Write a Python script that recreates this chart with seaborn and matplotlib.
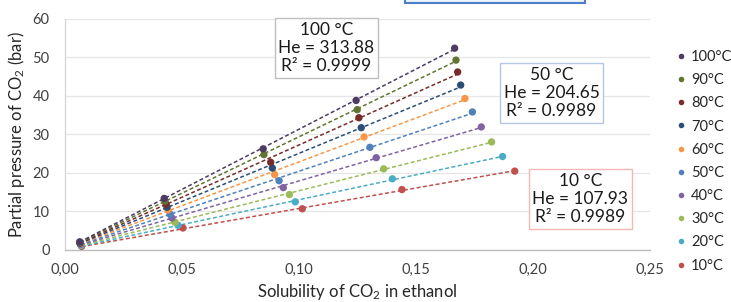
import numpy as np
import pandas as pd
import matplotlib
matplotlib.use("Agg")
import matplotlib.pyplot as plt
from matplotlib.lines import Line2D
from matplotlib.patches import Rectangle
import seaborn as sns

# ---- data ----
temps = ["10°C", "20°C", "30°C", "40°C", "50°C", "60°C", "70°C", "80°C", "90°C", "100°C"]
x_10 = [0.0071, 0.0504, 0.1014, 0.1440, 0.1922]
y_10 = [0.80, 5.6, 10.6, 15.6, 20.4]
x_20 = [0.0069, 0.0483, 0.0984, 0.1399, 0.1870]
y_20 = [1.00, 6.3, 12.4, 18.4, 24.2]
x_30 = [0.0068, 0.0470, 0.0959, 0.1362, 0.1823]
y_30 = [1.15, 7.1, 14.3, 21.0, 28.0]
x_40 = [0.0067, 0.0457, 0.0933, 0.1330, 0.1779]
y_40 = [1.30, 8.2, 16.1, 23.9, 31.9]
x_50 = [0.0066, 0.0449, 0.0915, 0.1303, 0.1741]
y_50 = [1.40, 9.2, 17.9, 26.6, 35.8]
x_60 = [0.0065, 0.0440, 0.0896, 0.1278, 0.1709]
y_60 = [1.55, 10.3, 19.5, 29.3, 39.3]
x_70 = [0.0064, 0.0436, 0.0886, 0.1266, 0.1691]
y_70 = [1.65, 11.0, 21.2, 31.7, 42.8]
x_80 = [0.0064, 0.0432, 0.0879, 0.1256, 0.1678]
y_80 = [1.75, 11.8, 22.7, 34.3, 46.2]
x_90 = [0.0063, 0.0427, 0.0850, 0.1249, 0.1671]
y_90 = [1.85, 12.6, 24.7, 36.4, 49.3]
x_100 = [0.0063, 0.0424, 0.0847, 0.1244, 0.1665]
y_100 = [2.00, 13.3, 26.2, 38.8, 52.4]

xs = [x_10, x_20, x_30, x_40, x_50, x_60, x_70, x_80, x_90, x_100]
ys = [y_10, y_20, y_30, y_40, y_50, y_60, y_70, y_80, y_90, y_100]

colors = ["#C0504D", "#4BACC6", "#9BBB59", "#8064A2", "#4F81BD",
          "#F79646", "#2C4D75", "#772C2A", "#5F7530", "#4D3B62"]

box_texts = ["100 °C\nHe = 313.88\nR² = 0.9999",
             "50 °C\nHe = 204.65\nR² = 0.9989",
             "10 °C\nHe = 107.93\nR² = 0.9989"]

x_ticks = [0.00, 0.05, 0.10, 0.15, 0.20, 0.25]
x_ticklabels = ["0,00", "0,05", "0,10", "0,15", "0,20", "0,25"]
y_ticks = [0, 10, 20, 30, 40, 50, 60]

# ---- long-form frame ----
rows = []
for t, xv, yv in zip(temps, xs, ys):
    for a, b in zip(xv, yv):
        rows.append({"T": t, "x": a, "p": b})
df = pd.DataFrame(rows)
palette = dict(zip(temps, colors))

sns.set_theme(style="white")
plt.rcParams["font.family"] = ["Lato", "DejaVu Sans"]
plt.rcParams["mathtext.fontset"] = "custom"
plt.rcParams["mathtext.rm"] = "Lato"
plt.rcParams["mathtext.default"] = "regular"

fig = plt.figure(figsize=(7.31, 3.02), dpi=100)
ax = fig.add_axes([65 / 731, 1 - 249.5 / 302, 585 / 731, (249.5 - 19) / 302])

# trendlines (least squares through origin)
for t, xv, yv, c in zip(temps, xs, ys, colors):
    xv = np.asarray(xv); yv = np.asarray(yv)
    k = np.sum(xv * yv) / np.sum(xv * xv)
    xl = np.array([xv.min(), xv.max()])
    ax.plot(xl, k * xl, ls=(0, (2.6, 1.6)), lw=1.1, color=c, zorder=2)

sns.scatterplot(data=df, x="x", y="p", hue="T", palette=palette, hue_order=temps,
                s=28, edgecolor="none", legend=False, ax=ax, zorder=3)

ax.set_xlim(0, 0.25)
ax.set_ylim(0, 60)
ax.set_xticks(x_ticks)
ax.set_xticklabels(x_ticklabels)
ax.set_yticks(y_ticks)
ax.tick_params(axis="x", labelsize=10.5, colors="#404040", length=0, pad=10)
ax.tick_params(axis="y", labelsize=10.5, colors="#404040", length=0, pad=11)
ax.yaxis.grid(True, color="#E6E6E6", lw=0.9)
ax.set_axisbelow(True)
for s in ["top", "right"]:
    ax.spines[s].set_visible(False)
ax.spines["bottom"].set_color("#BFBFBF")
ax.spines["left"].set_color("#D9D9D9")
ax.spines["bottom"].set_linewidth(1.0)
ax.spines["left"].set_linewidth(1.0)

ax.set_xlabel("Solubility of CO$_2$ in ethanol", fontsize=12, color="#262626", labelpad=3)
ax.set_ylabel("Partial pressure of CO$_2$ (bar)", fontsize=12, color="#262626", labelpad=4)

# annotation boxes
box_pos = [(326.5 / 731, 1 - 48 / 302), (551.5 / 731, 1 - 93 / 302), (580.5 / 731, 1 - 199 / 302)]
box_edges = ["#BFBFBF", "#B4C7E7", "#F2B8B5"]
for txt, (bx, by), ec in zip(box_texts, box_pos, box_edges):
    fig.text(bx, by, txt, ha="center", va="center", fontsize=12.5, color="#1a1a1a",
             linespacing=1.15,
             bbox=dict(boxstyle="square,pad=0.22", fc="white", ec=ec, lw=1.0))

# cut-off box at the top
fig.patches.append(Rectangle((405 / 731, 1 - 3 / 302), 180 / 731, 0.05,
                             transform=fig.transFigure, fc="#EEF3FB", ec="#4A7EC7",
                             lw=1.5, zorder=5))

# legend (markers only)
handles = [Line2D([], [], ls="none", marker="o", ms=4, color=palette[t], mec="none")
           for t in temps[::-1]]
fig.legend(handles, temps[::-1], loc="upper left", bbox_to_anchor=(672 / 731, 1 - 50 / 302),
           frameon=False, fontsize=10.5, handletextpad=0.1, handlelength=1.2,
           labelspacing=0.63, borderaxespad=0, borderpad=0)

fig.savefig("out.png", dpi=100)
